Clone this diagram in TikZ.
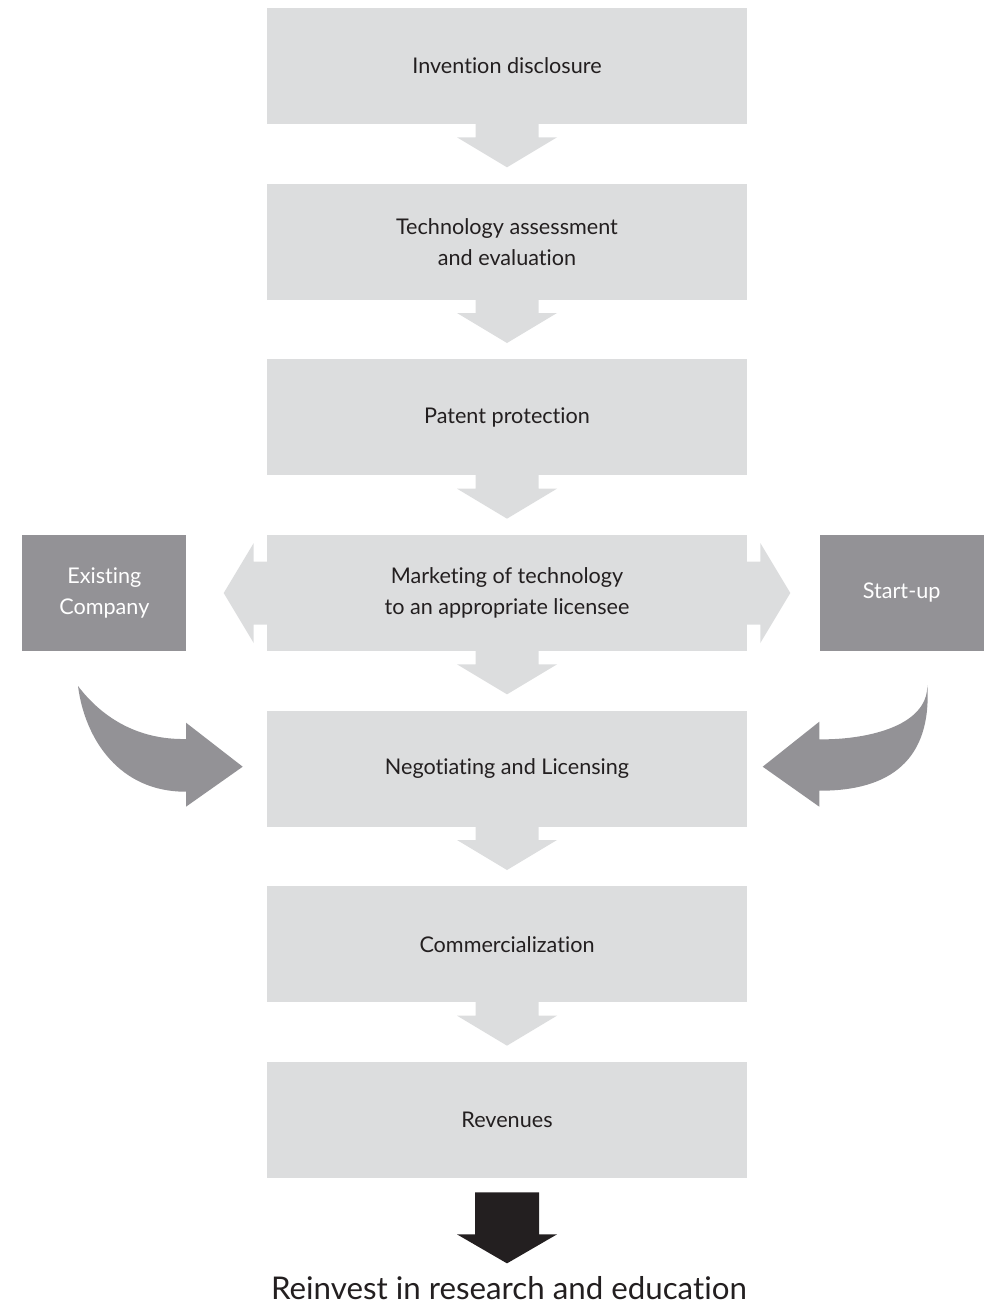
\documentclass[tikz,border=0pt]{standalone}
\usepackage{fontspec}
\setmainfont[Ligatures={NoCommon,NoRare}]{Lato}
\usetikzlibrary{positioning, calc}
\definecolor{stagegray}{RGB}{220,221,222}
\definecolor{partygray}{RGB}{147,146,150}
\definecolor{inkblack}{RGB}{35,31,32}
\tikzstyle{stage} = [rectangle, align=center, minimum width=9.6cm,
	minimum height=2.32cm, fill=stagegray, text=inkblack, font=\fontsize{12.3}{17.6}\selectfont]
\tikzstyle{party} = [rectangle, align=center, minimum width=3.28cm,
	minimum height=2.32cm, fill=partygray, text=white, font=\fontsize{12.3}{17.6}\selectfont]
% block arrow: colour, start point, rotation (0 points down)
\newcommand{\blockarrow}[3]{%
	\fill[#1, shift={(#2)}, rotate=#3] (-31.5,-1) -- (-31.5,13) -- (-50,13) -- (0,43)
		-- (50,13) -- (31.5,13) -- (31.5,-1) -- cycle;}

\begin{document}
\begin{tikzpicture}[x=0.02cm, y=-0.02cm, node distance=1.18cm]
	\useasboundingbox (0,0) rectangle (987,1304);

	% set up nodes
	\node (disclosure) [stage] at (507,66) {Invention disclosure};
	\node (assessment) [stage, below=of disclosure] {Technology assessment\\and evaluation};
	\node (patent) [stage, below=of assessment] {Patent protection};
	\node (marketing) [stage, below=of patent] {Marketing of technology\\to an appropriate licensee};
	\node (licensing) [stage, below=of marketing] {Negotiating and Licensing};
	\node (commercial) [stage, below=of licensing] {Commercialization};
	\node (revenues) [stage, below=of commercial] {Revenues};

	\node (existing) [party, left=1.6cm of marketing] {Existing\\Company};
	\node (startup) [party, right=1.44cm of marketing] {Start-up};

	% arrows between the stages
	\blockarrow{stagegray}{disclosure.south}{0}
	\blockarrow{stagegray}{assessment.south}{0}
	\blockarrow{stagegray}{patent.south}{0}
	\blockarrow{stagegray}{marketing.south}{0}
	\blockarrow{stagegray}{licensing.south}{0}
	\blockarrow{stagegray}{commercial.south}{0}
	\blockarrow{stagegray}{marketing.west}{-90}
	\blockarrow{stagegray}{marketing.east}{90}

	% curved arrows into licensing
	\fill[partygray] (78,686) .. controls (100,715) and (135,740) .. (186,739)
		-- (186,722.7) -- (242.7,766.7) -- (186,806.7) -- (186,791.7)
		.. controls (120,792) and (85,740) .. (78,686) -- cycle;
	\fill[partygray] (927.3,685) .. controls (928,728) and (862,740) .. (819.3,739.3)
		-- (819.3,721.7) -- (762.7,766.7) -- (819.3,806.7) -- (819.3,790.7)
		.. controls (890,791) and (932,760) .. (927.3,685) -- cycle;

	% final arrow and outcome
	\fill[inkblack, shift={(revenues.south)}] (-32,14) -- (-32,56) -- (-50,56) -- (0,85)
		-- (50,56) -- (32,56) -- (32,14) -- cycle;
	\node (reinvest) [anchor=base, text=inkblack, font=\fontsize{17.8}{20}\selectfont] at (509,1299)
		{Reinvest in research and education};
\end{tikzpicture}
\end{document}
